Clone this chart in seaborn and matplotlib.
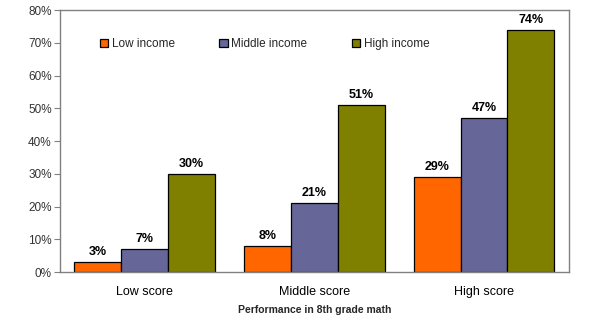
import matplotlib
matplotlib.use("Agg")
import matplotlib.pyplot as plt
import seaborn as sns
import pandas as pd
from matplotlib.ticker import PercentFormatter

# Share of students by 8th grade math performance and family income
scores = ["Low score", "Middle score", "High score"]
incomes = ["Low income", "Middle income", "High income"]
low_income = [3, 8, 29]
middle_income = [7, 21, 47]
high_income = [30, 51, 74]

colors = ["#FF6600", "#666699", "#808000"]

df = pd.DataFrame({
    "score": scores * 3,
    "income": [incomes[0]] * 3 + [incomes[1]] * 3 + [incomes[2]] * 3,
    "value": low_income + middle_income + high_income,
})

sns.set_theme(style="white")
plt.rcParams["font.family"] = ["Liberation Sans", "DejaVu Sans"]

fig, ax = plt.subplots(figsize=(6.0, 3.26), dpi=100)
fig.subplots_adjust(left=0.1, right=0.948, top=0.969, bottom=0.165)

sns.barplot(data=df, x="score", y="value", hue="income", order=scores,
            hue_order=incomes, palette=colors, width=0.83, saturation=1,
            edgecolor="black", linewidth=0.9, ax=ax, legend=True)

for cont in ax.containers:
    ax.bar_label(cont, labels=[f"{v:.0f}%" for v in cont.datavalues],
                 padding=3, fontsize=9, fontweight="bold", color="black")

ax.set_ylim(0, 80)
ax.set_yticks(range(0, 81, 10))
ax.yaxis.set_major_formatter(PercentFormatter(decimals=0))
ax.set_xlim(-0.5, 2.5)
ax.tick_params(axis="y", length=4, width=0.8, color="#808080", labelsize=8.5,
               labelcolor="#333333", pad=2, left=True)
ax.tick_params(axis="x", length=0, labelsize=9, labelcolor="black", pad=10)
ax.set_ylabel("")
ax.set_xlabel("Performance in 8th grade math", fontsize=7.5, fontweight="bold",
              labelpad=5)
for s in ax.spines.values():
    s.set_color("#808080")
    s.set_linewidth(1.0)

handles, labels = ax.get_legend_handles_labels()
ax.legend(handles, labels, ncol=3, frameon=False, loc="upper left",
          bbox_to_anchor=(0.069, 0.912), fontsize=8.5, handlelength=0.7,
          handleheight=0.7, handletextpad=0.3, columnspacing=3.8,
          borderaxespad=0)

fig.savefig("out.png", dpi=100)
